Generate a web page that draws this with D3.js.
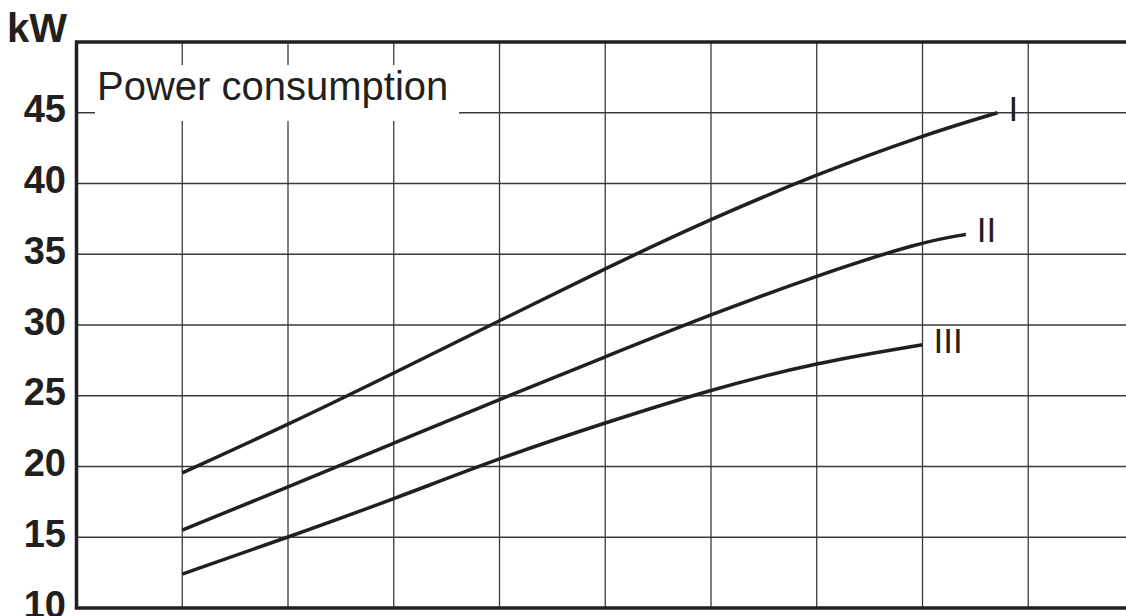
<!DOCTYPE html>
<html>
<head>
<meta charset="utf-8">
<script src="https://cdn.jsdelivr.net/npm/d3@7"></script>
<style>
  body { margin: 0; background: #fff; }
  svg { display: block; }
  text { font-family: "Liberation Sans", Arial, Helvetica, sans-serif; fill: #231f20; }
</style>
</head>
<body>
<svg></svg>
<script>
// curve data (x in grid columns, y in kW)
var xSteps = [1, 2, 3, 4, 5, 6, 7, 8];
var curveI   = [19.55, 22.95, 26.6, 30.3, 34.0, 37.5, 40.65, 43.4];
var curveII  = [15.5, 18.55, 21.65, 24.75, 27.75, 30.75, 33.5, 35.9];
var curveIII = [12.4, 15.0, 17.7, 20.6, 23.1, 25.45, 27.35, 28.6];
// last point of each curve (where it stops between grid lines)
var endX = [8.71, 8.41, 8.0];
var endY = [45.0, 36.4, 28.6];
var curveNames = ["I", "II", "III"];
var yTicks = [10, 15, 20, 25, 30, 35, 40, 45];
var xGrid = [1, 2, 3, 4, 5, 6, 7, 8, 9];

var width = 1126, height = 616;

var svg = d3.select("svg")
    .attr("width", width)
    .attr("height", height);

var x = d3.scaleLinear().domain([0, 10]).range([76.5, 1134]);
var y = d3.scaleLinear().domain([10, 50]).range([608, 42]);

// grid lines
var grid = svg.append("g").attr("class", "grid");

grid.selectAll(".hgrid")
    .data(yTicks.slice(1))
    .enter().append("line")
    .attr("x1", x(0)).attr("x2", width)
    .attr("y1", function(d) { return y(d); })
    .attr("y2", function(d) { return y(d); })
    .style("stroke", "#3a3a3a")
    .style("stroke-width", 1.3);

grid.selectAll(".vgrid")
    .data(xGrid)
    .enter().append("line")
    .attr("x1", function(d) { return x(d); })
    .attr("x2", function(d) { return x(d); })
    .attr("y1", y(50)).attr("y2", y(10))
    .style("stroke", "#3a3a3a")
    .style("stroke-width", 1.3);

// white box behind the title hides the grid
svg.append("rect")
    .attr("x", 95).attr("y", 65)
    .attr("width", 364).attr("height", 56)
    .style("fill", "#fff");

svg.append("text")
    .attr("x", 97).attr("y", 100)
    .style("font-size", "40px")
    .text("Power consumption");

// frame: left, top, bottom
svg.append("path")
    .attr("d", "M" + width + "," + y(50) + "H" + x(0) + "V" + y(10) + "H" + width)
    .style("fill", "none")
    .style("stroke", "#231f20")
    .style("stroke-width", 3.5);

// y axis labels
var yAxis = d3.axisLeft(y).tickValues(yTicks).tickSize(0).tickPadding(0);
var ya = svg.append("g")
    .attr("transform", "translate(66,0)")
    .call(yAxis);
ya.select(".domain").remove();
ya.selectAll("text")
    .attr("dy", null)
    .attr("y", 9)
    .style("font-family", "'Liberation Sans', Arial, sans-serif")
    .style("font-size", "38px")
    .style("font-weight", "bold")
    .style("fill", "#231f20");

svg.append("text")
    .attr("x", 67).attr("y", 42)
    .style("text-anchor", "end")
    .style("font-size", "40px")
    .style("font-weight", "bold")
    .text("kW");

// curves
var series = [curveI, curveII, curveIII].map(function(vals, i) {
  var pts = xSteps.map(function(s, j) { return [s, vals[j]]; });
  if (endX[i] > xSteps[xSteps.length - 1]) pts.push([endX[i], endY[i]]);
  else pts[pts.length - 1] = [endX[i], endY[i]];
  return {name: curveNames[i], points: pts};
});

var line = d3.line()
    .x(function(d) { return x(d[0]); })
    .y(function(d) { return y(d[1]); })
    .curve(d3.curveBasis);

var curves = svg.selectAll(".curve")
    .data(series)
    .enter().append("g")
    .attr("class", "curve");

curves.append("path")
    .attr("d", function(d) { return line(d.points); })
    .style("fill", "none")
    .style("stroke", "#231f20")
    .style("stroke-width", 3.5);

curves.append("text")
    .attr("x", function(d) { return x(d.points[d.points.length - 1][0]) + 11; })
    .attr("y", function(d) { return y(d.points[d.points.length - 1][1]) + 8; })
    .style("font-size", "35px")
    .text(function(d) { return d.name; });
</script>
</body>
</html>
